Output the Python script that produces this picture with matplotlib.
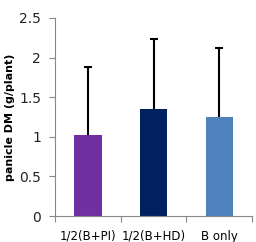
import matplotlib
matplotlib.use("Agg")
import matplotlib.pyplot as plt

categories = ["1/2(B+PI)", "1/2(B+HD)", "B only"]
values = [1.02, 1.35, 1.25]
errors = [0.86, 0.88, 0.87]
colors = ["#7030A0", "#002060", "#4F81BD"]

fig = plt.figure(figsize=(2.56, 2.42), dpi=100)
ax = fig.add_axes([0.215, 0.107, 0.77, 0.819])

x = list(range(len(categories)))
ax.bar(x, values, width=0.42, color=colors, zorder=2)
# upper error bars only, cap on top
ax.errorbar(x, values, yerr=[[0] * len(errors), errors], fmt="none",
            ecolor="black", elinewidth=1.5, capsize=0, zorder=3)
tops = [v + e for v, e in zip(values, errors)]
ax.hlines(tops, [i - 0.06 for i in x], [i + 0.06 for i in x],
          color="black", linewidth=1.5, zorder=3)

ax.set_xlim(-0.5, 2.5)
ax.set_ylim(0, 2.5)
ax.set_yticks([0, 0.5, 1, 1.5, 2, 2.5])
ax.set_yticklabels(["0", "0.5", "1", "1.5", "2", "2.5"], fontsize=10, color="#222222")
ax.set_xticks([-0.5, 0.5, 1.5, 2.5])
ax.set_xticklabels([])
ax.set_xticks(x, minor=True)
ax.set_xticklabels(categories, minor=True, fontsize=8.5)
ax.tick_params(axis="x", which="minor", length=0, pad=10)
ax.tick_params(axis="x", which="major", length=4, color="#888888")
ax.tick_params(axis="y", length=4, color="#888888", pad=6)

for s in ["top", "right"]:
    ax.spines[s].set_visible(False)
for s in ["left", "bottom"]:
    ax.spines[s].set_color("#888888")

ax.set_ylabel("panicle DM (g/plant)", fontsize=8, fontweight="semibold", labelpad=3)

fig.savefig("out.png", dpi=100)
